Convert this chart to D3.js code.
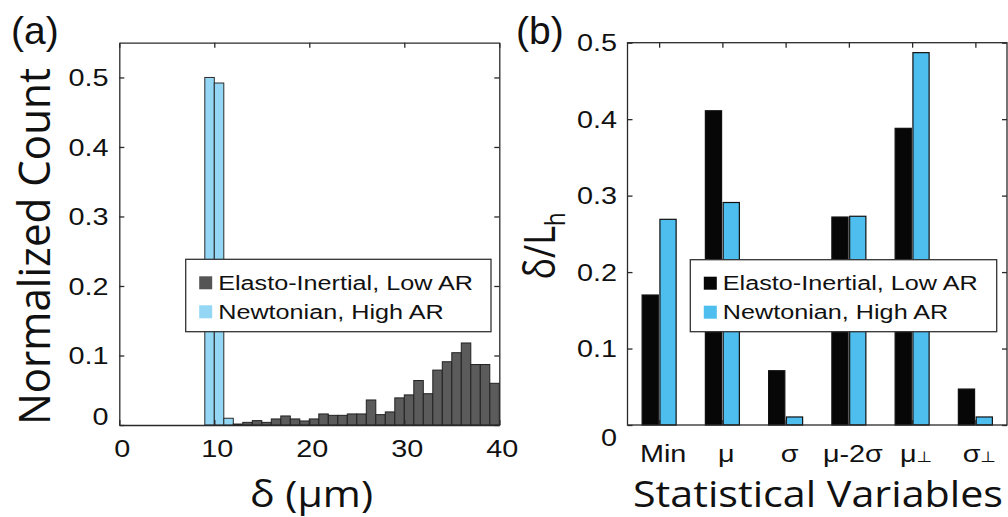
<!DOCTYPE html>
<html><head><meta charset="utf-8">
<script src="https://cdn.jsdelivr.net/npm/d3@7"></script>
<style>body{margin:0;background:#fff}svg{display:block}</style>
</head><body>
<svg id="c" width="1008" height="517"></svg>
<script>
// ---------- data ----------
const seriesNames = ["Elasto-Inertial, Low AR", "Newtonian, High AR"];
// panel (a): histogram of delta (um), bin width 1 um
const histXTicks = [0, 10, 20, 30, 40];
const histYTicks = [0, 0.1, 0.2, 0.3, 0.4, 0.5];
const binWidth = 1;
const newtonianBinStarts = [9, 10, 11];
const newtonianCounts = [0.5, 0.492, 0.0097];
const elastoBinStarts = [12,13,14,15,16,17,18,19,20,21,22,23,24,25,26,27,28,29,30,31,32,33,34,35,36,37,38,39];
const elastoCounts = [0.0014,0.0038,0.0063,0.0038,0.0087,0.013,0.0087,0.0058,0.0087,0.0159,0.0139,0.0139,0.0159,0.0159,0.036,0.0149,0.0188,0.039,0.0433,0.064,0.045,0.079,0.091,0.104,0.118,0.087,0.087,0.060];
// panel (b): statistical variables, delta / L_h
const statCategories = ["Min", "μ", "σ", "μ-2σ", "μ⊥", "σ⊥"];
const elastoStats = [0.170, 0.411, 0.071, 0.272, 0.388, 0.047];
const newtonianStats = [0.269, 0.291, 0.0105, 0.273, 0.487, 0.0105];
const statYTicks = [0, 0.1, 0.2, 0.3, 0.4, 0.5];

// ---------- setup ----------
const svg = d3.select("#c");
const SX = 1.2;               // horizontal stretch of the reference text
const TICKFONT = "'Liberation Sans', Arial, sans-serif";
const TITLEFONT = "'Open Sans', 'Noto Sans', sans-serif";
const AXCOL = "#2a2a2a";

function label(g, x, y, s, o = {}) {
  const t = g.append("text")
    .attr("transform", `translate(${x},${y}) scale(${o.sx ?? SX},1)${o.rot ? " rotate(-90)" : ""}`)
    .attr("font-family", o.font || TICKFONT)
    .attr("font-size", o.size || 24)
    .attr("text-anchor", o.anchor || "middle")
    .attr("fill", "#111");
  if (o.len) t.attr("textLength", o.len).attr("lengthAdjust", "spacingAndGlyphs");
  if (s.endsWith("⊥")) {
    t.append("tspan").text(s.slice(0, -1));
    t.append("tspan").attr("font-size", (o.size || 24) * 0.62).attr("font-family", "'DejaVu Sans', sans-serif").text("⊥");
  } else t.text(s);
  return t;
}

function box(g, x0, x1, y0, y1, xTicks, yTicks, xs, ys) {
  const tl = 5;
  g.append("g").attr("transform", `translate(0,${y1})`).call(d3.axisBottom(xs).tickValues(xTicks).tickSize(-tl).tickSizeOuter(0).tickFormat(""));
  g.append("g").attr("transform", `translate(0,${y0})`).call(d3.axisTop(xs).tickValues(xTicks).tickSize(-tl).tickSizeOuter(0).tickFormat(""));
  g.append("g").attr("transform", `translate(${x0},0)`).call(d3.axisLeft(ys).tickValues(yTicks).tickSize(-tl).tickSizeOuter(0).tickFormat(""));
  g.append("g").attr("transform", `translate(${x1},0)`).call(d3.axisRight(ys).tickValues(yTicks).tickSize(-tl).tickSizeOuter(0).tickFormat(""));
  g.selectAll(".domain, .tick line").attr("stroke", AXCOL).attr("stroke-width", 1.3);
}

function legend(g, x, y, w, h, colors) {
  g.append("rect").attr("x", x).attr("y", y).attr("width", w).attr("height", h)
    .attr("fill", "#fff").attr("stroke", "#333").attr("stroke-width", 1.3);
  seriesNames.forEach((n, i) => {
    g.append("rect").attr("x", x + 13.5).attr("y", y + 17 + i * 29).attr("width", 13).attr("height", 13)
      .attr("fill", colors[i]);
    label(g, x + 32.5, y + 30.7 + i * 29, n, { size: 21, anchor: "start" });
  });
}

const yfmt = d => d === 0 ? "0" : d.toFixed(1);

// ---------- panel (a) ----------
{
  const x0 = 119.3, x1 = 499.3, y0 = 42.7, y1 = 425;
  const g = svg.append("g");
  const xs = d3.scaleLinear([0, 40], [x0, x1]);
  const ys = d3.scaleLinear([0, 0.55], [y1, y0]);

  const nb = newtonianBinStarts.map((s, i) => ({ s, v: newtonianCounts[i] }));
  const eb = elastoBinStarts.map((s, i) => ({ s, v: elastoCounts[i] }));

  g.selectAll(".nb").data(nb).join("rect")
    .attr("x", d => xs(d.s)).attr("width", d => xs(d.s + binWidth) - xs(d.s))
    .attr("y", d => ys(d.v)).attr("height", d => ys(0) - ys(d.v))
    .attr("fill", "#93d7f4").attr("stroke", "#2b2b2b").attr("stroke-width", 1);
  g.selectAll(".eb").data(eb).join("rect")
    .attr("x", d => xs(d.s)).attr("width", d => xs(d.s + binWidth) - xs(d.s))
    .attr("y", d => ys(d.v)).attr("height", d => ys(0) - ys(d.v))
    .attr("fill", "#5b5b5b").attr("stroke", "#222").attr("stroke-width", 1);

  box(g, x0, x1, y0, y1, histXTicks, histYTicks, xs, ys);

  histYTicks.forEach(t => {
    const shift = t === 0 ? -9 : 0;
    label(g, 108.5, ys(t) + 8.6 + shift, yfmt(t), { anchor: "end" });
  });
  histXTicks.forEach(t => label(g, xs(t) + 3, 457, String(t)));

  legend(g, 185.7, 259.3, 305.3, 72.4, ["#555555", "#93d7f4"]);

  label(g, 311.5, 507, "δ (µm)", { font: TITLEFONT, size: 37, sx: 1, len: 123 });
  label(g, 50, 246.5, "Normalized Count", { font: TITLEFONT, size: 37, rot: true, len: 357 });
  label(g, 11, 44, "(a)", { size: 39, anchor: "start", sx: 1 });
}

// ---------- panel (b) ----------
{
  const x0 = 627.5, x1 = 1007, y0 = 42.7, y1 = 425;
  const g = svg.append("g");
  const xs = d3.scaleBand(statCategories, [x0, x1]).paddingInner(0).paddingOuter(0);
  const xsub = d3.scaleBand(seriesNames, [-17, 17]).paddingInner(0.09);
  const ys = d3.scaleLinear([0, 0.5], [y1, y0]);
  const colors = ["#070707", "#4dbeee"];
  const rows = statCategories.map((c, i) => ({ c, vals: [elastoStats[i], newtonianStats[i]] }));

  const grp = g.selectAll(".grp").data(rows).join("g")
    .attr("transform", d => `translate(${xs(d.c) + xs.bandwidth() / 2},0)`);
  grp.selectAll("rect").data(d => d.vals.map((v, k) => ({ v, k })))
    .join("rect")
    .attr("x", d => xsub(seriesNames[d.k])).attr("width", xsub.bandwidth())
    .attr("y", d => ys(d.v)).attr("height", d => ys(0) - ys(d.v))
    .attr("fill", d => colors[d.k]).attr("stroke", "#111").attr("stroke-width", 1.2);

  const centers = statCategories.map(c => xs(c) + xs.bandwidth() / 2);
  const cs = d3.scaleOrdinal(statCategories, centers);
  // box with ticks at category centres
  const tickScale = d3.scalePoint(statCategories, [centers[0], centers[centers.length - 1]]);
  const tl = 5;
  g.append("g").attr("transform", `translate(0,${y0})`).call(d3.axisTop(tickScale).tickSize(-tl).tickSizeOuter(0).tickFormat(""));
  g.append("g").attr("transform", `translate(0,${y1})`).call(d3.axisBottom(tickScale).tickSize(-tl).tickSizeOuter(0).tickFormat(""));
  g.selectAll(".domain").remove();
  g.append("rect").attr("x", x0).attr("y", y0).attr("width", x1 - x0).attr("height", y1 - y0)
    .attr("fill", "none").attr("stroke", AXCOL).attr("stroke-width", 1.3);
  g.append("g").attr("transform", `translate(${x0},0)`).call(d3.axisLeft(ys).tickValues(statYTicks).tickSize(-tl).tickSizeOuter(0).tickFormat(""));
  g.append("g").attr("transform", `translate(${x1},0)`).call(d3.axisRight(ys).tickValues(statYTicks).tickSize(-tl).tickSizeOuter(0).tickFormat(""));
  g.selectAll(".domain").remove();
  g.selectAll(".tick line").attr("stroke", AXCOL).attr("stroke-width", 1.3);

  statYTicks.forEach(t => {
    const shift = t === 0 ? 12 : 0;
    label(g, 617, ys(t) + 8.6 + shift, yfmt(t), { anchor: "end" });
  });
  statCategories.forEach(c => label(g, cs(c) + 4, 461.5, c));

  legend(g, 690.3, 259.7, 306.4, 72, colors);

  label(g, 818, 507, "Statistical Variables", { font: TITLEFONT, size: 37, sx: 1, len: 370 });
  const t = g.append("text")
    .attr("transform", `translate(555,246) scale(${SX},1) rotate(-90)`)
    .attr("font-family", TITLEFONT).attr("font-size", 36).attr("text-anchor", "middle").attr("fill", "#111");
  t.append("tspan").text("δ/L");
  t.append("tspan").attr("font-size", 22).attr("dy", 8).text("h");
  label(g, 516, 44, "(b)", { size: 39, anchor: "start", sx: 1 });
}
</script>
</body></html>
